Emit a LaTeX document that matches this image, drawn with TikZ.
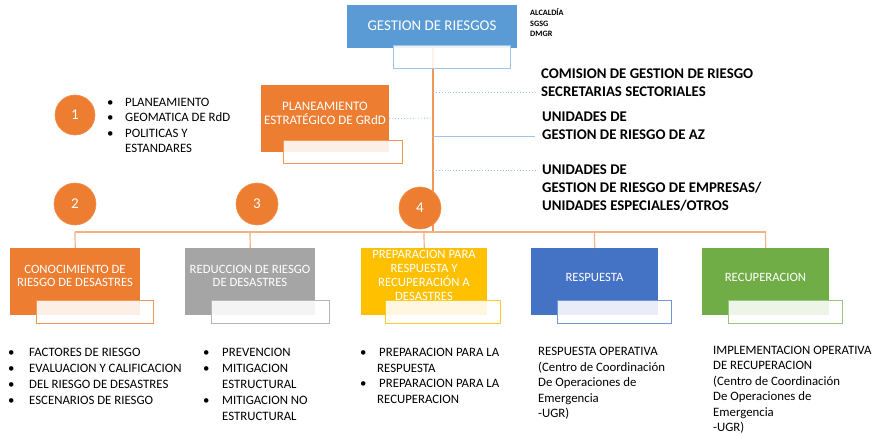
\documentclass[tikz,border=0pt]{standalone}
\usepackage{fontspec}
\setmainfont{Carlito}
\definecolor{orn}{HTML}{ED7D31}
\definecolor{topblue}{HTML}{5B9BD5}
\definecolor{gry}{HTML}{A5A5A5}
\definecolor{yel}{HTML}{FFC000}
\definecolor{dblue}{HTML}{4472C4}
\definecolor{grn}{HTML}{70AD47}
\definecolor{lblue}{HTML}{9DC3E6}
\definecolor{lorn}{HTML}{F4B183}
\tikzset{
  mainbox/.style={anchor=north west, minimum width=130pt, minimum height=67pt, inner sep=0pt, draw=none},
  subbox/.style={anchor=north west, minimum width=117pt, minimum height=23pt, inner sep=0pt, fill=white, fill opacity=0.88, line width=0.8pt},
  boxtext/.style={text=white, align=center, inner sep=0pt, font=\fontsize{12.7}{13.8}\selectfont},
  numcirc/.style={circle, fill=orn, draw=orn!85!white, line width=0.6pt, minimum size=42pt, inner sep=0pt, text=white, font=\fontsize{15}{17}\selectfont},
  listtext/.style={anchor=north west, inner sep=0pt, align=left, font=\fontsize{12.8}{16}\selectfont},
  righttext/.style={anchor=north west, inner sep=0pt, align=left, font=\fontsize{14.8}{18}\selectfont\bfseries},
  trunk/.style={draw=orn!80!white, line width=1.2pt},
  branch/.style={draw=lorn, line width=1.2pt},
  dotline/.style={draw=lblue, line width=0.9pt, dotted},
  solidline/.style={draw=lblue, line width=1pt}
}
\newcommand{\bul}[1]{\makebox[#1][l]{•}}
\begin{document}
\begin{tikzpicture}[x=1pt,y=-1pt]
\useasboundingbox (0,0) rectangle (875,436);
\fill[white] (0,0) rectangle (875,436);

% ---------- top ----------
\node[mainbox, minimum width=170pt, minimum height=43pt, fill=topblue] (top) at (347,5) {};
\node[text=white, inner sep=0pt, font=\fontsize{14.9}{17}\selectfont] (toptxt) at (432,26) {GESTION DE RIESGOS};
\node[anchor=north west, inner sep=0pt, align=left, font=\fontsize{8.2}{10.5}\selectfont\bfseries] (alc) at (530,8.5) {ALCALDÍA\\SGSG\\DMGR};

% trunk and side lines
\coordinate (vtop) at (433,48);
\coordinate (vbar) at (433,232);
\coordinate (v1) at (433,92);
\coordinate (v2) at (433,118);
\coordinate (v3) at (433,136);
\coordinate (v4) at (433,170);
\coordinate (e1) at (535,92);
\coordinate (e3) at (535,136);
\coordinate (e4) at (535,170);
\draw[trunk] (vtop) -- (vbar);
\draw[dotline] (v1) -- (e1);
\draw[solidline] (v3) -- (e3);
\draw[dotline] (v4) -- (e4);

\node[subbox, draw=lblue] (topsub) at (393,45) {};

% right texts
\node[righttext] (r1) at (541,68.5) {COMISION DE GESTION DE RIESGO\\SECRETARIAS SECTORIALES};
\node[righttext] (r2) at (542,112) {UNIDADES DE\\GESTION DE RIESGO DE AZ};
\node[righttext] (r3) at (542,164.5) {UNIDADES DE\\GESTION DE RIESGO DE EMPRESAS/\\UNIDADES ESPECIALES/OTROS};

% planeamiento
\node[mainbox, minimum width=128pt, fill=orn] (pl) at (261,85) {};
\node[boxtext, font=\fontsize{13}{14}\selectfont] (pltxt) at (325,113) {PLANEAMIENTO\\ESTRATÉGICO DE GRdD};
\draw[dotline] (pl.east) -- (v2);
\node[subbox, draw=orn!80!white, minimum width=119pt] (plsub) at (283,140) {};

% circle 1 and list
\node[numcirc, minimum size=40pt] (c1) at (75,115) {1};
\node[listtext, font=\fontsize{12.8}{15.5}\selectfont] (l1) at (107,97.8) {\bul{18pt}PLANEAMIENTO\\\bul{18pt}GEOMATICA DE RdD\\\bul{18pt}POLITICAS Y\\\hspace*{18pt}ESTANDARES};

% bar
\coordinate (b1) at (75,232);
\coordinate (b2) at (250,232);
\coordinate (b3) at (424,232);
\coordinate (b4) at (594.5,232);
\coordinate (b5) at (765.5,232);
\draw[branch] (b1) -- (b5);

% boxes
\node[mainbox, fill=orn] (k1) at (10,248) {};
\node[mainbox, fill=gry] (k2) at (185,248) {};
\node[mainbox, minimum width=126pt, fill=yel] (k3) at (361,248) {};
\node[mainbox, minimum width=127pt, fill=dblue] (k4) at (531,248) {};
\node[mainbox, minimum width=127pt, fill=grn] (k5) at (702,248) {};
\draw[branch] (b1) -- (k1.north);
\draw[branch] (b2) -- (k2.north);
\draw[branch] (b3) -- (k3.north);
\draw[branch] (b4) -- (k4.north);
\draw[branch] (b5) -- (k5.north);

\node[boxtext] (t1) at (75,276) {CONOCIMIENTO DE\\RIESGO DE DESASTRES};
\node[boxtext] (t2) at (250,276) {REDUCCION DE RIESGO\\DE DESASTRES};
\node[boxtext] (t3) at (424,275.5) {PREPARACION PARA\\RESPUESTA Y\\RECUPERACIÓN A\\DESASTRES};
\node[boxtext] (t4) at (594.5,277) {RESPUESTA};
\node[boxtext] (t5) at (765.5,277) {RECUPERACION};

\node[subbox, draw=orn!80!white] (s1) at (36,300) {};
\node[subbox, draw=gry!80!white, minimum width=118pt] (s2) at (211,300) {};
\node[subbox, draw=yel!85!white, minimum width=115pt] (s3) at (385,300) {};
\node[subbox, draw=dblue!75!white, minimum width=114pt] (s4) at (557,300) {};
\node[subbox, draw=grn!70!white, minimum width=114pt] (s5) at (728,300) {};

% circles 2-4
\node[numcirc] (c2) at (75,204) {2};
\node[numcirc] (c3) at (257,204) {3};
\node[numcirc] (c4) at (420,208) {4};

% bottom lists
\node[listtext] (bl1) at (8,348) {\bul{21pt}FACTORES DE RIESGO\\\bul{21pt}EVALUACION Y CALIFICACION\\\bul{21pt}DEL RIESGO DE DESASTRES\\\bul{21pt}ESCENARIOS DE RIESGO};
\node[listtext, font=\fontsize{12.8}{15.9}\selectfont] (bl2) at (203,348) {\bul{19pt}PREVENCION\\\bul{19pt}MITIGACION\\\hspace*{19pt}ESTRUCTURAL\\\bul{19pt}MITIGACION NO\\\hspace*{19pt}ESTRUCTURAL};
\node[listtext, font=\fontsize{12.8}{15.5}\selectfont] (bl3) at (360,348) {\bul{19pt}PREPARACION PARA LA\\\hspace*{17pt}RESPUESTA\\\bul{19pt}PREPARACION PARA LA\\\hspace*{17pt}RECUPERACION};
\node[listtext, font=\fontsize{12.8}{15.5}\selectfont] (bl4) at (538,347) {RESPUESTA OPERATIVA\\(Centro de Coordinación\\De Operaciones de\\Emergencia\\-UGR)};
\node[listtext, font=\fontsize{12.8}{15.4}\selectfont] (bl5) at (713,346) {IMPLEMENTACION OPERATIVA\\DE RECUPERACION\\(Centro de Coordinación\\De Operaciones de\\Emergencia\\-UGR)};
\end{tikzpicture}
\end{document}
